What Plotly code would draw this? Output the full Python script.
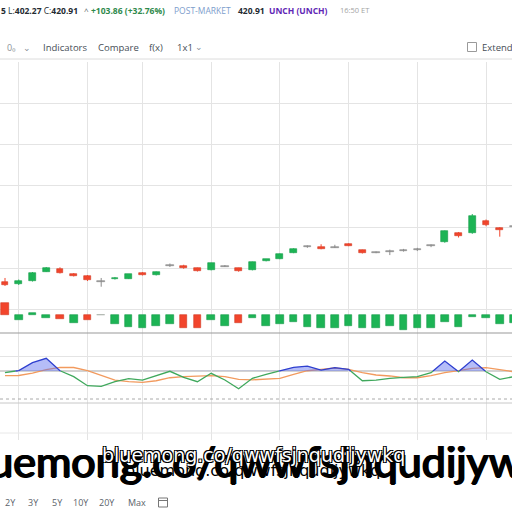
import plotly.graph_objects as go

# ---------------- data ----------------
idx = list(range(38))
opens = [333.8, 331.0, 334.6, 345.9, 349.5, 343.5, 341.0, 334.6, 337.0, 337.4,
         344.7, 341.5, 353.3, 353.1, 350.0, 347.9, 352.8, 350.0, 347.9, 358.8,
         361.6, 368.9, 376.2, 376.2, 375.6, 379.4, 371.8, 369.4, 370.9, 372.2,
         373.0, 377.4, 381.5, 393.1, 392.4, 407.6, 398.8, 400.4]
closes = [329.8, 335.0, 344.7, 350.7, 344.3, 341.0, 335.5, 334.4, 338.6, 342.7,
          342.3, 345.5, 353.1, 350.0, 346.7, 356.0, 352.6, 346.4, 357.6, 360.9,
          367.3, 373.7, 376.0, 373.7, 375.4, 377.4, 368.9, 369.2, 370.7, 372.0,
          372.8, 377.2, 395.2, 389.5, 413.3, 402.8, 396.4, 400.2]
highs = [338.3, 336.4, 345.5, 351.6, 351.2, 344.3, 341.9, 338.3, 339.5, 343.1,
         345.5, 346.1, 355.8, 354.3, 350.8, 356.6, 354.0, 350.6, 358.0, 361.3,
         367.9, 374.3, 377.7, 379.1, 378.5, 380.2, 372.6, 370.4, 372.6, 373.5,
         374.8, 378.9, 395.8, 394.0, 415.7, 409.1, 399.8, 401.5]
lows = [328.6, 329.8, 334.0, 345.5, 343.7, 340.1, 334.6, 327.7, 336.4, 337.0,
        341.3, 341.3, 351.6, 349.5, 346.1, 347.5, 351.6, 345.9, 347.5, 358.4,
        361.0, 368.3, 374.8, 373.0, 374.6, 376.8, 367.9, 368.3, 366.0, 370.2,
        370.9, 375.6, 381.0, 387.3, 391.8, 401.0, 388.3, 399.0]

hist = [11.5, -5.5, 1.5, -3.8, -4.5, -8.8, -5.8, -0.6, -9.5, -12.2,
        -13.8, -11.5, -9.8, -13.2, -13.5, -5.5, -11.2, -8.8, -3.8, -11.2,
        -9.8, -7.2, -12.2, -13.2, -13.2, -11.5, -13.8, -13.8, -11.5, -15.5,
        -13.8, -13.2, -7.2, -12.8, -2.5, -3.5, -9.5, -8.0]
hist_dir = ["dn", "up", "up", "up", "dn", "up", "dn", "flat", "up", "up",
            "up", "up", "up", "dn", "dn", "up", "up", "dn", "up", "up",
            "up", "up", "up", "up", "up", "up", "up", "up", "up", "up",
            "up", "up", "up", "up", "up", "up", "up", "up"]

osc_fast = [67.6, 70.7, 81.9, 88.1, 70.4, 61.9, 49.0, 48.1, 54.7, 59.0,
            57.1, 62.9, 69.6, 61.0, 54.7, 66.7, 57.1, 44.7, 59.6, 65.3,
            70.4, 75.3, 77.1, 71.4, 74.7, 72.4, 56.1, 57.1, 59.6, 61.0,
            61.9, 67.6, 84.3, 69.0, 85.7, 69.0, 58.1, 61.9]
osc_slow = [63.3, 63.6, 67.1, 72.1, 75.3, 75.0, 70.4, 64.3, 57.1, 54.7,
            53.9, 56.1, 60.4, 61.9, 62.9, 63.3, 61.9, 58.1, 57.4, 58.1,
            59.6, 65.3, 70.4, 72.4, 74.3, 72.4, 67.6, 64.3, 62.9, 60.4,
            60.4, 63.3, 67.6, 70.4, 73.9, 74.7, 72.4, 69.0]
osc_level = 70

grid_x = [1, 6, 10, 15, 20, 25, 30, 35]

# ---------------- styling ----------------
UP, UP_L = "#1db455", "#139a46"
DN, DN_L = "#f2452c", "#d23520"
FLAT = "#8c8c8c"
GRID = "#e4e4e4"


def py(px):
    return (512 - px) / 512.0


def pxx(px):
    return px / 512.0


fig = go.Figure()

kinds = []
for o, c in zip(opens, closes):
    if abs(c - o) < 0.5:
        kinds.append("flat")
    elif c > o:
        kinds.append("up")
    else:
        kinds.append("dn")

wick_col = {"up": UP, "dn": DN, "flat": FLAT}
for k in ["up", "dn", "flat"]:
    wx, wy = [], []
    for i, kk in enumerate(kinds):
        if kk == k:
            wx += [idx[i], idx[i], None]
            wy += [lows[i], highs[i], None]
    fig.add_trace(go.Scatter(x=wx, y=wy, mode="lines", line=dict(color=wick_col[k], width=1),
                             xaxis="x", yaxis="y", hoverinfo="skip", showlegend=False))

body_fill = {"up": UP, "dn": DN, "flat": FLAT}
body_line = {"up": UP_L, "dn": DN_L, "flat": FLAT}
for k in ["up", "dn", "flat"]:
    bx, bb, bh = [], [], []
    for i, kk in enumerate(kinds):
        if kk == k:
            lo = min(opens[i], closes[i])
            h = abs(closes[i] - opens[i])
            if h < 1.3:
                lo -= (1.3 - h) / 2
                h = 1.3
            bx.append(idx[i]); bb.append(lo); bh.append(h)
    fig.add_trace(go.Bar(x=bx, y=bh, base=bb, width=0.5 if k != "flat" else 0.55,
                         marker=dict(color=body_fill[k], line=dict(color=body_line[k], width=0.6)),
                         xaxis="x", yaxis="y", showlegend=False, hoverinfo="skip"))

hcol = {"up": UP, "dn": DN, "flat": "#9aa39a"}
hline = {"up": UP_L, "dn": DN_L, "flat": "#9aa39a"}
fig.add_trace(go.Bar(x=idx, y=hist, width=0.55,
                     marker=dict(color=[hcol[d] for d in hist_dir],
                                 line=dict(color=[hline[d] for d in hist_dir], width=0.6)),
                     xaxis="x", yaxis="y2", showlegend=False, hoverinfo="skip"))

dx, dy = [], []
for i in range(len(idx)):
    if i > 0:
        y0, y1 = osc_fast[i - 1], osc_fast[i]
        if (y0 - osc_level) * (y1 - osc_level) < 0:
            t = (osc_level - y0) / (y1 - y0)
            dx.append(idx[i - 1] + t); dy.append(osc_level)
    dx.append(idx[i]); dy.append(osc_fast[i])
above = [v if v >= osc_level else None for v in dy]
below = [v if v <= osc_level else None for v in dy]
clip = [max(v, osc_level) for v in dy]

fig.add_trace(go.Scatter(x=idx, y=osc_slow, mode="lines", line=dict(color="#f29a5e", width=1.3),
                         xaxis="x2", yaxis="y3", showlegend=False, hoverinfo="skip"))
fig.add_trace(go.Scatter(x=dx, y=[osc_level] * len(dx), mode="lines", line=dict(width=0),
                         xaxis="x2", yaxis="y3", showlegend=False, hoverinfo="skip"))
fig.add_trace(go.Scatter(x=dx, y=clip, mode="lines", line=dict(width=0), fill="tonexty",
                         fillcolor="rgba(92,108,240,0.45)",
                         xaxis="x2", yaxis="y3", showlegend=False, hoverinfo="skip"))
fig.add_trace(go.Scatter(x=dx, y=below, mode="lines", line=dict(color="#3fa85c", width=1.3),
                         xaxis="x2", yaxis="y3", showlegend=False, hoverinfo="skip", connectgaps=False))
fig.add_trace(go.Scatter(x=dx, y=above, mode="lines", line=dict(color="#2e3fcf", width=1.3),
                         xaxis="x2", yaxis="y3", showlegend=False, hoverinfo="skip", connectgaps=False))
fig.add_trace(go.Scatter(x=[idx[0]], y=[0], mode="markers", marker=dict(opacity=0),
                         xaxis="x3", yaxis="y4", showlegend=False, hoverinfo="skip"))

xr = [-0.3638, 36.89]
xcommon = dict(range=xr, tickvals=grid_x, showgrid=True, gridcolor=GRID, gridwidth=1,
               showticklabels=False, zeroline=False, showline=False, ticks="", fixedrange=True)

fig.update_layout(
    width=512, height=512, margin=dict(l=0, r=0, t=0, b=0, autoexpand=False),
    paper_bgcolor="white", plot_bgcolor="white", bargap=0, barmode="overlay",
    xaxis=dict(domain=[0, 1], anchor="y", **xcommon),
    xaxis2=dict(domain=[0, 1], anchor="y3", matches="x", **xcommon),
    xaxis3=dict(domain=[0, 1], anchor="y4", matches="x", **xcommon),
    yaxis=dict(domain=[py(333), py(62)], range=[271.67, 599.8], tickvals=[300, 350, 400, 450, 500, 550, 600],
               showgrid=True, gridcolor=GRID, showticklabels=False, zeroline=False, ticks=""),
    yaxis2=dict(overlaying="y", range=[-18.5, 252.5], visible=False),
    yaxis3=dict(domain=[py(403), py(333)], range=[24.3, 124.3], tickvals=[50, 90.4],
                showgrid=True, gridcolor=GRID, showticklabels=False, zeroline=False, ticks=""),
    yaxis4=dict(domain=[py(440), py(403)], range=[0, 1], tickvals=[], showgrid=False,
                showticklabels=False, zeroline=False, ticks=""),
    font=dict(family="Open Sans", color="#232a31"),
)

shapes = []
shapes.append(dict(type="line", xref="paper", yref="paper", x0=0, x1=1, y0=py(59), y1=py(59),
                   line=dict(color="#dcdcdc", width=1)))
shapes.append(dict(type="line", xref="paper", yref="paper", x0=0, x1=1, y0=py(333), y1=py(333),
                   line=dict(color="#9a9a9a", width=1.2)))
shapes.append(dict(type="line", xref="x2", yref="y3", x0=xr[0], x1=xr[1], y0=osc_level, y1=osc_level,
                   line=dict(color="#a8a8a8", width=1.2), layer="below"))
shapes.append(dict(type="line", xref="x2", yref="y3", x0=xr[0], x1=xr[1], y0=30, y1=30,
                   line=dict(color="#aaaaaa", width=1, dash="dot")))
shapes.append(dict(type="line", xref="paper", yref="paper", x0=0, x1=1, y0=py(403), y1=py(403),
                   line=dict(color="#c8c8c8", width=1)))
shapes.append(dict(type="line", xref="paper", yref="paper", x0=0, x1=1, y0=py(433), y1=py(433),
                   line=dict(color="#e8e8e8", width=1)))
shapes.append(dict(type="rect", xref="paper", yref="paper", x0=pxx(467.5), x1=pxx(476.5),
                   y0=py(51.5), y1=py(42.5), line=dict(color="#9a9a9a", width=1)))
shapes.append(dict(type="rect", xref="paper", yref="paper", x0=pxx(158.5), x1=pxx(167.5),
                   y0=py(507), y1=py(498), line=dict(color="#777", width=1)))
shapes.append(dict(type="line", xref="paper", yref="paper", x0=pxx(158.5), x1=pxx(167.5),
                   y0=py(500.5), y1=py(500.5), line=dict(color="#777", width=1)))
fig.update_layout(shapes=shapes)

ann = []


def txt(x, y, s, size=9, color="#232a31", family="Open Sans", anchor="left", **kw):
    ann.append(dict(x=pxx(x), y=py(y), xref="paper", yref="paper", text=s, showarrow=False,
                    xanchor=anchor, yanchor="middle", font=dict(size=size, color=color, family=family), **kw))


txt(-1, 10, "<b>5</b> L:<b>402.27</b> C:<b>420.91</b>", size=8.5)
txt(82, 10, "^", size=8, color="#5b636a")
txt(89, 10, "<b>+103.86 (+32.76%)</b>", size=8.5, color="#2f8a4c")
txt(172, 10, "POST-MARKET", size=8.5, color="#7c9dcc")
txt(236, 10, "<b>420.91</b>", size=8.5)
txt(267, 10, "<b>UNCH (UNCH)</b>", size=8.5, color="#5f27b5")
txt(338, 10, "16:50 ET", size=7.5, color="#a3a3a3")
txt(5, 47, "0₀", size=9, color="#8b9198")
txt(21, 47, "⌄", size=9, color="#8b9198")
txt(41, 47, "Indicators", size=9.5, color="#464e56")
txt(96, 47, "Compare", size=9.5, color="#464e56")
txt(147, 47, "f(x)", size=9.5, color="#464e56")
txt(175, 47, "1x1", size=9.5, color="#464e56")
txt(193, 46, "⌄", size=9, color="#8b9198")
txt(480, 47, "Extended", size=9.5, color="#464e56")
for lab, x in [("2Y", 3), ("3Y", 26), ("5Y", 50), ("10Y", 71), ("20Y", 97), ("Max", 126)]:
    txt(x, 502, lab, size=9, color="#5b636a")

wm = "bluemong.co/qwwfsjnqudijywkq"
ann.append(dict(x=pxx(261), y=py(460), xref="paper", yref="paper", text=wm, showarrow=False,
                xanchor="center", yanchor="middle",
                font=dict(size=43, color="#000000", family="Lato",
                          shadow="1px 0 0 #000, -1px 0 0 #000, 0 1px 0 #000")))
txt(253, 470, wm, size=16, color="#000000", family="DejaVu Sans", anchor="center")
ann.append(dict(x=pxx(253), y=py(455), xref="paper", yref="paper", text=wm, showarrow=False,
                xanchor="center", yanchor="middle",
                font=dict(size=19, color="#ffffff", family="DejaVu Sans",
                          shadow="1px 1px 0 #000, -1px -1px 0 #000, 1px -1px 0 #000, -1px 1px 0 #000")))
fig.update_layout(annotations=ann)

fig.write_html("out.html")
